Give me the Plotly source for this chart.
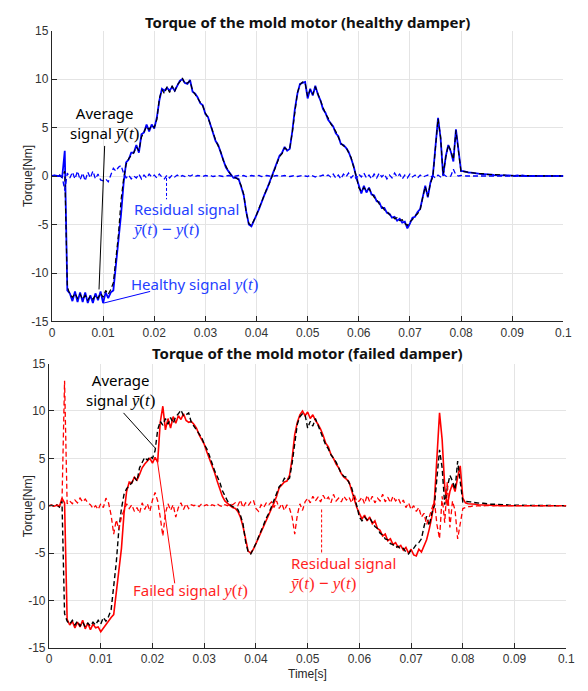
import numpy as np
import plotly.graph_objects as go

# ---------------- data (sampled every 0.5 ms) ----------------
T = np.linspace(0, 0.1, 201)

AVG = [
    0.0, 0.05, -0.05, 0.1, -0.15, 0.5, -11.4, -12.2, -12.5, -12.1,
    -12.6, -12.2, -12.7, -12.3, -12.8, -12.4, -12.7, -12.3, -12.6, -12.1,
    -12.5, -11.8, -12.2, -11.7, -11.0, -8.5, -6.0, -2.5, -0.3, 1.2,
    1.8, 2.1, 2.4, 3.0, 2.6, 4.0, 4.6, 5.1, 4.8, 5.2,
    5.0, 5.8, 8.0, 8.9, 8.5, 9.2, 8.6, 9.3, 8.7, 9.4,
    9.7, 10.1, 9.5, 9.6, 9.8, 8.8, 8.4, 8.0, 7.6, 7.2,
    6.5, 6.0, 5.3, 4.4, 3.7, 3.1, 2.5, 1.6, 1.0, 0.5,
    0.1, -0.1, -0.2, -0.4, -1.0, -1.9, -3.8, -4.9, -5.1, -4.6,
    -4.0, -3.3, -2.7, -2.0, -1.3, -0.8, -0.1, 0.6, 1.2, 2.0,
    2.3, 2.9, 2.7, 2.9, 4.5, 6.8, 8.6, 9.4, 9.7, 9.6,
    8.2, 8.9, 8.4, 9.2, 8.5, 7.6, 7.1, 6.4, 6.0, 5.4,
    5.0, 4.6, 4.0, 3.4, 3.1, 3.0, 2.4, 1.9, 0.9, 0.0,
    -1.2, -1.6, -1.2, -1.5, -1.3, -1.7, -2.2, -2.4, -2.9, -3.1,
    -3.5, -3.6, -4.0, -4.1, -4.4, -4.3, -4.6, -4.5, -4.9, -5.1,
    -4.7, -4.5, -4.1, -3.9, -3.5, -2.2, -1.1, -2.1, -0.8, 0.0,
    2.9, 5.9, 4.0, 0.1, 1.9, 3.2, 2.6, 1.7, 4.7, 2.4,
    0.4, 0.45, 0.45, 0.4, 0.35, 0.3, 0.3, 0.25, 0.25, 0.2,
    0.2, 0.15, 0.15, 0.15, 0.1, 0.1, 0.1, 0.1, 0.05, 0.05,
    0.05, 0.05, 0.0, 0.05, 0.0, 0.05, 0.0, 0.0, 0.05, 0.0,
    0.0, 0.0, 0.05, 0.0, 0.0, 0.0, 0.0, 0.0, 0.0, 0.0,
    0.0,
]

HEALTHY = [
    0.0, 0.05, 0.0, 0.0, -0.1, 2.6, -11.8, -12.1, -12.9, -11.9,
    -13.0, -12.0, -13.0, -12.0, -13.1, -12.3, -13.1, -12.1, -12.8, -11.9,
    -13.1, -12.0, -12.6, -12.0, -11.8, -9.2, -7.2, -4.0, -0.8, 1.4,
    1.7, 2.4, 2.4, 3.2, 2.4, 4.3, 4.5, 5.3, 4.6, 5.3,
    4.9, 6.0, 7.8, 9.0, 8.8, 9.1, 8.8, 9.2, 8.8, 9.3,
    9.8, 10.0, 9.6, 9.5, 9.9, 8.7, 8.5, 8.1, 7.5, 7.3,
    6.4, 6.1, 5.2, 4.5, 3.6, 3.2, 2.4, 1.7, 0.9, 0.5,
    0.1, -0.2, -0.2, -0.3, -1.1, -2.0, -3.7, -5.0, -5.2, -4.5,
    -4.0, -3.4, -2.6, -2.0, -1.4, -0.7, -0.1, 0.7, 1.2, 2.1,
    2.4, 3.0, 2.6, 2.8, 4.6, 6.9, 8.5, 9.5, 9.6, 9.7,
    8.0, 9.0, 8.3, 9.3, 8.4, 7.8, 6.9, 6.5, 5.8, 5.5,
    5.1, 4.4, 4.1, 3.3, 3.2, 2.9, 2.5, 1.8, 1.0, -0.1,
    -1.0, -1.8, -1.0, -1.7, -1.2, -1.9, -2.0, -2.6, -2.7, -3.3,
    -3.3, -3.8, -3.9, -4.3, -4.2, -4.6, -4.4, -4.8, -4.7, -5.4,
    -4.9, -4.3, -4.2, -3.7, -3.4, -2.3, -1.0, -2.2, -0.7, 0.1,
    3.0, 6.0, 3.9, 0.0, 2.0, 3.2, 2.5, 1.5, 4.8, 2.3,
    0.5, 0.5, 0.4, 0.35, 0.35, 0.3, 0.25, 0.25, 0.2, 0.2,
    0.2, 0.15, 0.15, 0.1, 0.1, 0.1, 0.1, 0.05, 0.05, 0.05,
    0.05, 0.0, 0.05, 0.0, 0.05, 0.0, 0.0, 0.05, 0.0, 0.0,
    0.0, 0.05, 0.0, 0.0, 0.0, 0.0, 0.0, 0.0, 0.0, 0.0,
    0.0,
]

RESID_HEALTHY = [
    0.0, 0.05, -0.05, 0.1, -0.1, -1.5, 0.3, -0.2, 0.4, -0.3,
    0.5, -0.4, 0.3, -0.5, 0.4, -0.2, 0.5, -0.3, 0.2, -0.4,
    -0.5, -0.3, -0.6, 0.2, 0.8, 0.5, 0.9, 1.1, 0.3, -0.2,
    0.1, -0.3, 0.0, -0.2, 0.2, -0.3, 0.1, -0.2, 0.2, -0.1,
    0.1, -0.2, 0.2, -0.1, -0.3, 0.1, -0.2, 0.1, -0.1, 0.1,
    -0.1, 0.05, -0.05, 0.1, 0.0, 0.1, -0.05, 0.05, 0.0, -0.05,
    0.05, 0.0, 0.05, -0.05, 0.0, 0.05, 0.0, -0.05, 0.0, 0.05,
    0.0, -0.05, 0.0, 0.05, 0.0, 0.05, -0.05, 0.0, 0.05, 0.0,
    0.0, 0.05, -0.05, 0.0, 0.05, 0.0, -0.05, 0.0, 0.05, -0.05,
    0.0, 0.05, 0.0, -0.05, 0.0, 0.05, -0.05, 0.0, 0.05, 0.0,
    -0.05, 0.1, 0.0, -0.1, 0.05, 0.0, 0.1, -0.05, 0.1, -0.1,
    0.2, -0.2, 0.1, -0.3, 0.2, -0.1, 0.3, -0.2, 0.1, -0.3,
    0.2, -0.1, 0.3, -0.2, 0.1, -0.3, 0.2, -0.2, 0.3, -0.1,
    0.2, -0.3, 0.1, -0.2, 0.3, -0.1, 0.2, -0.3, 0.1, -0.2,
    0.2, -0.1, 0.1, -0.2, 0.1, -0.1, 0.0, 0.1, -0.1, 0.0,
    -0.2, 0.1, -0.1, 0.2, 0.0, -0.1, 0.0, 0.7, 0.1, 0.0,
    0.05, 0.0, 0.0, 0.0, 0.0, 0.0, 0.0, 0.0, 0.0, 0.0,
    0.0, 0.0, 0.0, 0.0, 0.0, 0.0, 0.0, 0.0, 0.0, 0.0,
    0.0, 0.0, 0.0, 0.0, 0.0, 0.0, 0.0, 0.0, 0.0, 0.0,
    0.0, 0.0, 0.0, 0.0, 0.0, 0.0, 0.0, 0.0, 0.0, 0.0,
    0.0,
]

FAILED = [
    0.0, 0.05, -0.05, 0.05, -0.1, 0.8, 0.3, -12.0, -12.6, -12.2,
    -12.9, -12.3, -12.8, -12.1, -13.0, -12.4, -13.1, -12.5, -12.9, -12.8,
    -13.3, -12.9, -12.5, -12.2, -11.8, -11.5, -9.0, -7.0, -4.5, -0.8,
    1.5, 2.5, 2.4, 3.0, 2.7, 3.3, 4.0, 4.4, 4.7, 5.0,
    4.5, 5.1, 4.6, 8.8, 10.5, 8.0, 9.2, 8.2, 9.4, 8.7,
    9.5, 9.1, 9.7, 9.0, 8.8, 8.9, 8.6, 8.2, 7.5, 7.0,
    6.5, 5.7, 5.0, 4.3, 3.5, 2.6, 1.8, 1.0, 0.5, 0.2,
    0.0, -0.2, -0.3, -0.6, -1.2, -2.2, -3.5, -4.8, -5.0, -4.6,
    -4.0, -3.4, -2.8, -2.2, -1.5, -0.9, -0.3, 0.3, 1.0, 1.9,
    2.2, 2.5, 2.6, 3.2, 5.0, 7.5, 8.8, 9.6, 10.0, 9.5,
    9.9, 9.2, 9.6, 9.0, 8.6, 8.1, 7.4, 6.6, 6.2, 5.4,
    5.0, 4.4, 4.0, 3.4, 3.0, 2.8, 2.5, 1.5, 0.8, -0.2,
    -0.8, -1.4, -1.0, -1.6, -1.2, -1.9, -1.6, -2.4, -2.6, -3.2,
    -3.0, -3.7, -3.5, -4.1, -3.9, -4.4, -4.2, -4.7, -4.4, -5.0,
    -4.6, -5.2, -5.3, -4.6, -4.9, -4.2, -3.6, -2.5, -1.2, 0.5,
    5.0, 9.8, 7.0, 2.0, 0.0, 1.5, 2.3, 1.5, 3.0, 4.2,
    0.8, 0.3, 0.2, 0.2, 0.15, 0.15, 0.1, 0.1, 0.1, 0.05,
    0.05, 0.05, 0.0, 0.05, 0.0, 0.0, 0.05, 0.0, 0.0, 0.0,
    0.0, 0.0, 0.0, 0.0, 0.0, 0.0, 0.0, 0.0, 0.0, 0.0,
    0.0, 0.0, 0.0, 0.0, 0.0, 0.0, 0.0, 0.0, 0.0, 0.0,
    0.0,
]

RESID_FAILED = [
    0.0, 0.05, -0.05, 0.05, 0.0, 0.3, 13.2, 0.2, 0.5, 0.2,
    0.6, 0.3, 0.8, 0.4, 0.7, 0.3, 0.1, -0.3, 0.0, -0.4,
    0.2, -0.2, 0.8, 0.3, -1.0, -3.0, -1.5, -2.5, -1.2, -0.5,
    0.2, -0.3, 0.1, -0.6, -0.2, -0.8, 0.3, -0.4, 0.2, -0.6,
    0.6, 1.4, 0.5, -1.2, -3.2, -0.8, 0.2, -0.5, 0.1, -1.2,
    -0.2, 0.3, -0.4, 0.2, -0.3, 0.1, 0.0, 0.1, -0.1, 0.2,
    0.0, 0.1, -0.1, 0.1, 0.0, 0.2, 0.0, -0.1, 0.1, 0.0,
    0.2, 0.1, 0.3, 0.0, 0.6, -0.2, 0.3, 0.0, 0.4, 0.6,
    -0.3, -0.6, 0.1, -0.2, 0.3, 0.1, 0.4, -0.2, 0.5, -0.3,
    0.2, -0.5, 0.1, -0.3, -1.2, -3.0, -1.0, 0.2, -0.5, 0.4,
    0.8, 0.3, 1.0, 0.5, 0.9, 0.4, 1.1, 0.6, 0.9, 0.3,
    1.2, 0.5, 0.8, 0.4, 1.0, 0.6, 0.9, 0.3, 1.2, 0.4,
    0.5, 0.9, 0.2, 1.1, 0.4, 1.0, 0.3, 0.8, 0.5, 1.2,
    0.4, 0.9, 0.3, 1.0, 0.5, 0.8, 0.2, 0.6, -0.2, 0.3,
    -0.4, 0.0, -0.6, -0.2, -1.2, -0.8, -2.0, -1.2, -0.3, 0.5,
    -2.0, -3.5, 1.0, -1.8, 2.5, -2.3, 0.5, -0.5, -3.5, -2.0,
    -0.3, -0.2, -0.1, -0.1, 0.0, -0.05, 0.0, -0.05, 0.0, 0.0,
    0.0, 0.0, 0.0, 0.0, 0.0, 0.0, 0.0, 0.0, 0.0, 0.0,
    0.0, 0.0, 0.0, 0.0, 0.0, 0.0, 0.0, 0.0, 0.0, 0.0,
    0.0, 0.0, 0.0, 0.0, 0.0, 0.0, 0.0, 0.0, 0.0, 0.0,
    0.0,
]

X_TICKS = [0, 0.01, 0.02, 0.03, 0.04, 0.05, 0.06, 0.07, 0.08, 0.09, 0.1]
X_LABELS = ["0", "0.01", "0.02", "0.03", "0.04", "0.05", "0.06", "0.07", "0.08", "0.09", "0.1"]
Y_TICKS = [-15, -10, -5, 0, 5, 10, 15]
Y_LABELS = ["-15", "-10", "-5", "0", "5", "10", "15"]

TITLE_TOP = "Torque of the mold motor (healthy damper)"
TITLE_BOT = "Torque of the mold motor (failed damper)"

# ---------------- styling ----------------
W, H = 588, 691
BLUE, RED, BLACK = "#0000ff", "#ff0000", "#000000"
BLUE_TXT, RED_TXT = "#2440ff", "#ff1f1f"
GRID = "#e4e4e4"
AXC = "#262626"
SANS = "Liberation Sans, Arial, sans-serif"
TICKFONT = dict(family=SANS, size=12, color="#333333")
ANNFONT = "Noto Sans, sans-serif"
MATH = "Liberation Serif, DejaVu Serif, serif"


def m(s):
    return f"<span style='font-family:{MATH};font-size:17px'>{s}</span>"


YBAR = m("<i>ȳ</i>(<i>t</i>)")
YT = m("<i>y</i>(<i>t</i>)")
RESID_TXT = m("<i>ȳ</i>(<i>t</i>) <b>−</b> <i>y</i>(<i>t</i>)")

fig = go.Figure()

# top panel
fig.add_trace(go.Scatter(x=T, y=HEALTHY, mode="lines", line=dict(color=BLUE, width=1.8),
                         xaxis="x", yaxis="y"))
fig.add_trace(go.Scatter(x=T, y=AVG, mode="lines", line=dict(color=BLACK, width=1.2, dash="5px,3px"),
                         xaxis="x", yaxis="y"))
fig.add_trace(go.Scatter(x=T, y=RESID_HEALTHY, mode="lines", line=dict(color=BLUE, width=1.3, dash="5px,3px"),
                         xaxis="x", yaxis="y"))
# bottom panel
fig.add_trace(go.Scatter(x=T, y=FAILED, mode="lines", line=dict(color=RED, width=1.6),
                         xaxis="x2", yaxis="y2"))
fig.add_trace(go.Scatter(x=T, y=AVG, mode="lines", line=dict(color=BLACK, width=1.4, dash="5px,3px"),
                         xaxis="x2", yaxis="y2"))
fig.add_trace(go.Scatter(x=T, y=RESID_FAILED, mode="lines", line=dict(color=RED, width=1.3, dash="5px,3px"),
                         xaxis="x2", yaxis="y2"))


def xax(domain, anchor):
    return dict(domain=domain, anchor=anchor, range=[0, 0.1], tickvals=X_TICKS, ticktext=X_LABELS,
                showgrid=True, gridcolor=GRID, gridwidth=1, zeroline=False, showline=True,
                linecolor=AXC, linewidth=1.2, ticks="inside", ticklen=5, tickcolor=AXC,
                tickfont=TICKFONT, mirror=False)


def yax(domain, anchor):
    return dict(domain=domain, anchor=anchor, range=[-15, 15], tickvals=Y_TICKS, ticktext=Y_LABELS,
                showgrid=True, gridcolor=GRID, gridwidth=1, zeroline=False, showline=True,
                linecolor=AXC, linewidth=1.2, ticks="inside", ticklen=5, tickcolor=AXC,
                tickfont=TICKFONT, mirror=False)


fig.update_layout(
    width=W, height=H, margin=dict(l=0, r=0, t=0, b=0),
    paper_bgcolor="white", plot_bgcolor="white", showlegend=False,
    xaxis=xax([50 / W, 572 / W], "y"),
    yaxis=yax([1 - 321 / H, 1 - 24 / H], "x"),
    xaxis2=xax([47 / W, 575 / W], "y2"),
    yaxis2=yax([1 - 654 / H, 1 - 364 / H], "x2"),
)

anns = []
# titles and axis labels
anns.append(dict(text=f"<b>{TITLE_TOP}</b>", x=311 / W, y=1 - 15 / H, xref="paper", yref="paper",
                 yanchor="middle", showarrow=False, font=dict(family=ANNFONT, size=15, color="#111111")))
anns.append(dict(text=f"<b>{TITLE_BOT}</b>", x=311 / W, y=1 - 353 / H, xref="paper", yref="paper",
                 yanchor="middle", showarrow=False, font=dict(family=ANNFONT, size=15, color="#111111")))
for yc in (172, 509):
    anns.append(dict(text="Torque[Nm]", x=25 / W, y=1 - yc / H, xref="paper", yref="paper",
                     xanchor="center", yanchor="middle", textangle=-90, showarrow=False,
                     font=dict(family=SANS, size=12, color=AXC)))
anns.append(dict(text="Time[s]", x=311 / W, y=1 - 681 / H, xref="paper", yref="paper", showarrow=False,
                 xanchor="center", yanchor="middle", font=dict(family=SANS, size=12, color=AXC)))

# top annotations
anns.append(dict(text=f"Average<br>signal {YBAR}", x=0.0103, y=5.45, xref="x", yref="y", showarrow=False,
                 align="center", font=dict(family=ANNFONT, size=15, color=BLACK)))
anns.append(dict(text=f"Residual signal<br>{RESID_TXT}", x=0.0153, y=-4.4, xref="x", yref="y",
                 xanchor="left", align="left", showarrow=False,
                 font=dict(family=ANNFONT, size=15, color=BLUE_TXT)))
anns.append(dict(text=f"Healthy signal {YT}", x=0.0151, y=-11.1, xref="x", yref="y",
                 xanchor="left", showarrow=False, font=dict(family=ANNFONT, size=15, color=BLUE_TXT)))
# bottom annotations
anns.append(dict(text=f"Average<br>signal {YBAR}", x=0.0139, y=12.2, xref="x2", yref="y2", showarrow=False,
                 align="center", font=dict(family=ANNFONT, size=15, color=BLACK)))
anns.append(dict(text=f"Failed signal {YT}", x=0.0158, y=-8.9, xref="x2", yref="y2",
                 xanchor="left", showarrow=False, font=dict(family=ANNFONT, size=15, color=RED_TXT)))
anns.append(dict(text=f"Residual signal<br>{RESID_TXT}", x=0.0460, y=-7.15, xref="x2", yref="y2",
                 xanchor="left", align="left", showarrow=False,
                 font=dict(family=ANNFONT, size=15, color=RED_TXT)))
fig.update_layout(annotations=anns)

shapes = [
    dict(type="line", xref="x", yref="y", x0=0.0103, y0=3.1, x1=0.0092, y1=-11.7,
         line=dict(color=BLACK, width=1)),
    dict(type="line", xref="x", yref="y", x0=0.0224, y0=-0.2, x1=0.0224, y1=-2.4,
         line=dict(color=BLUE, width=1, dash="3px,2px")),
    dict(type="line", xref="x", yref="y", x0=0.0192, y0=-11.9, x1=0.0101, y1=-13.1,
         line=dict(color=BLUE, width=1)),
    dict(type="line", xref="x2", yref="y2", x0=0.0144, y0=9.8, x1=0.0205, y1=6.1,
         line=dict(color=BLACK, width=1)),
    dict(type="line", xref="x2", yref="y2", x0=0.0243, y0=-8.2, x1=0.0209, y1=4.9,
         line=dict(color=RED, width=1)),
    dict(type="line", xref="x2", yref="y2", x0=0.0527, y0=-0.4, x1=0.0527, y1=-5.0,
         line=dict(color=RED, width=1, dash="3px,2px")),
]
fig.update_layout(shapes=shapes)

fig.write_html("out.html")
